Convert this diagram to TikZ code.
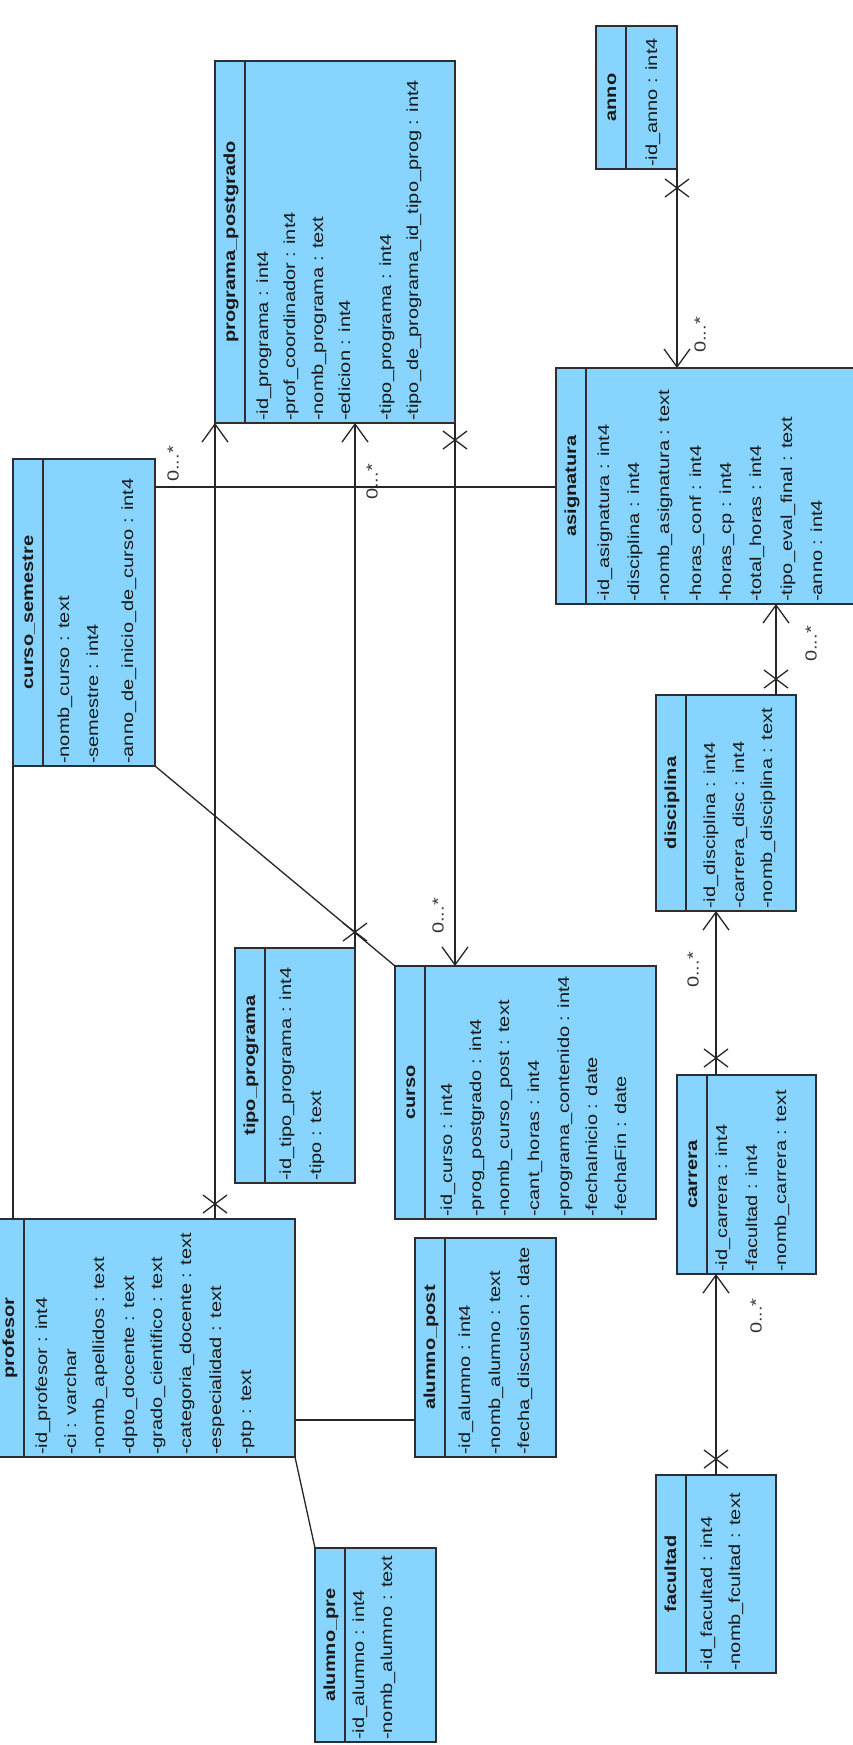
\documentclass[tikz,border=0pt]{standalone}
\usepackage{fontspec}
\newfontfamily\umlfont{Liberation Sans}[FakeStretch=1.25]
\usetikzlibrary{arrows.meta,calc}

\definecolor{clsfill}{RGB}{135,213,255}
\definecolor{clsline}{RGB}{45,45,50}

\tikzset{
  cls/.style={draw=clsline, fill=clsfill, line width=1.4pt, inner sep=0pt, outer sep=0pt, anchor=north west, rectangle},
  sepline/.style={draw=clsline, line width=1.4pt},
  attr/.style={rotate=90, anchor=west, inner sep=0pt, text height=11.5pt, text depth=3.5pt,
    font=\umlfont\fontsize{16}{18}\selectfont, text=black!90},
  hdr/.style={rotate=90, anchor=center, inner sep=0pt, text height=11.5pt, text depth=3.5pt,
    font=\umlfont\bfseries\fontsize{16}{18}\selectfont, text=black!90},
  mult/.style={rotate=90, inner sep=0pt, font=\umlfont\fontsize{16}{18}\selectfont, text=black!80},
  conn/.style={draw=black!85, line width=1.3pt},
  nav/.style={conn, -{Straight Barb[length=18pt,width=26pt]}},
}

% class box: name, left, top, width, height, title
\newcommand\umlclass[6]{%
  \node[cls, minimum width=#4pt, minimum height=#5pt] (#1) at (#2,#3) {};
  \draw[sepline] ($(#1.north west)+(30,0)$) -- ($(#1.south west)+(30,0)$);
  \node[hdr] (#1-h) at ($(#1.west)+(16,0)$) {#6};}
% attribute line: class, index, offset from left edge, text
\newcommand\umlattr[4]{\node[attr] (#1-a#2) at ($(#1.south west)+(#3,-2)$) {#4};}
% "not navigable" cross mark centred on a named coordinate
\newcommand\umlcross[1]{\draw[conn] ($(#1)+(-12,-9)$) -- ($(#1)+(12,9)$) ($(#1)+(-12,9)$) -- ($(#1)+(12,-9)$);}

\begin{document}
\begin{tikzpicture}[x=1pt,y=-1pt]
\useasboundingbox (0,0) rectangle (853,1745);
\fill[white] (0,0) rectangle (853,1745);
\clip (0,0) rectangle (853,1745);

% ---------- classes ----------
\umlclass{pp}{215}{61}{240}{362}{programa\_postgrado}
\umlclass{anno}{596}{26}{81}{143}{anno}
\umlclass{cs}{13}{459}{142}{307}{curso\_semestre}
\umlclass{asig}{556}{368}{320}{236}{asignatura}
\umlclass{tipo}{235}{948}{120}{235}{tipo\_programa}
\umlclass{curso}{395}{966}{261}{253}{curso}
\umlclass{disc}{656}{695}{140}{216}{disciplina}
\umlclass{carr}{677}{1075}{139}{199}{carrera}
\umlclass{fac}{656}{1475}{120}{198}{facultad}
\umlclass{prof}{-6}{1219}{301}{238}{profesor}
\umlclass{apost}{415}{1238}{141}{219}{alumno\_post}
\umlclass{apre}{315}{1548}{121}{194}{alumno\_pre}

% ---------- attributes ----------
\umlattr{pp}{1}{49}{-id\_programa : int4}
\umlattr{pp}{2}{76}{-prof\_coordinador : int4}
\umlattr{pp}{3}{104}{-nomb\_programa : text}
\umlattr{pp}{4}{131}{-edicion : int4}
\umlattr{pp}{5}{172}{-tipo\_programa : int4}
\umlattr{pp}{6}{199}{-tipo\_de\_programa\_id\_tipo\_prog : int4}

\umlattr{anno}{1}{57}{-id\_anno : int4}

\umlattr{cs}{1}{52}{-nomb\_curso : text}
\umlattr{cs}{2}{81}{-semestre : int4}
\umlattr{cs}{3}{116}{-anno\_de\_inicio\_de\_curso : int4}

\umlattr{asig}{1}{49}{-id\_asignatura : int4}
\umlattr{asig}{2}{79}{-disciplina : int4}
\umlattr{asig}{3}{109}{-nomb\_asignatura : text}
\umlattr{asig}{4}{141}{-horas\_conf : int4}
\umlattr{asig}{5}{171}{-horas\_cp : int4}
\umlattr{asig}{6}{201}{-total\_horas : int4}
\umlattr{asig}{7}{232}{-tipo\_eval\_final : text}
\umlattr{asig}{8}{262}{-anno : int4}

\umlattr{tipo}{1}{52}{-id\_tipo\_programa : int4}
\umlattr{tipo}{2}{82}{-tipo : text}

\umlattr{curso}{1}{53}{-id\_curso : int4}
\umlattr{curso}{2}{82}{-prog\_postgrado : int4}
\umlattr{curso}{3}{110}{-nomb\_curso\_post : text}
\umlattr{curso}{4}{140}{-cant\_horas : int4}
\umlattr{curso}{5}{170}{-programa\_contenido : int4}
\umlattr{curso}{6}{198}{-fechaInicio : date}
\umlattr{curso}{7}{227}{-fechaFin : date}

\umlattr{disc}{1}{55}{-id\_disciplina : int4}
\umlattr{disc}{2}{84}{-carrera\_disc : int4}
\umlattr{disc}{3}{112}{-nomb\_disciplina : text}

\umlattr{carr}{1}{46}{-id\_carrera : int4}
\umlattr{carr}{2}{76}{-facultad : int4}
\umlattr{carr}{3}{105}{-nomb\_carrera : text}

\umlattr{fac}{1}{52}{-id\_facultad : int4}
\umlattr{fac}{2}{80}{-nomb\_fcultad : text}

\umlattr{prof}{1}{49}{-id\_profesor : int4}
\umlattr{prof}{2}{78}{-ci : varchar}
\umlattr{prof}{3}{106}{-nomb\_apellidos : text}
\umlattr{prof}{4}{136}{-dpto\_docente : text}
\umlattr{prof}{5}{164}{-grado\_cientifico : text}
\umlattr{prof}{6}{193}{-categoria\_docente : text}
\umlattr{prof}{7}{223}{-especialidad : text}
\umlattr{prof}{8}{253}{-ptp : text}

\umlattr{apost}{1}{51}{-id\_alumno : int4}
\umlattr{apost}{2}{81}{-nomb\_alumno : text}
\umlattr{apost}{3}{110}{-fecha\_discusion : date}

\umlattr{apre}{1}{45}{-id\_alumno : int4}
\umlattr{apre}{2}{73}{-nomb\_alumno : text}

% ---------- connector end points ----------
\coordinate (h1) at ($(cs.north east)+(0,28)$);
\coordinate (d1) at ($(disc.north west)+(120,0)$);
\coordinate (c1) at ($(carr.north west)+(39,0)$);
\coordinate (f1) at ($(fac.north west)+(60,0)$);
\coordinate (p1) at ($(apost.north west)+(0,182)$);

% ---------- associations ----------
\draw[nav] (anno.south east) -- (anno.south east |- asig.north);
\draw[nav] (pp.south east) -- (pp.south east |- curso.north);
\draw[nav] (prof.north -| pp.south west) -- (pp.south west);
\draw[nav] (tipo.north east) -- (tipo.north east |- pp.south);
\draw[conn] (h1) -- (h1 -| asig.west);
\draw[conn] (cs.south west) -- (cs.south west |- prof.north);
\draw[conn] (cs.south east) -- (curso.north west);
\draw[nav] (d1) -- (d1 |- asig.south);
\draw[nav] (c1) -- (c1 |- disc.south);
\draw[nav] (f1) -- (f1 |- carr.south);
\draw[conn] (p1 -| prof.east) -- (p1);
\draw[conn] (prof.south east) -- (apre.north west);

% ---------- cross marks ----------
\coordinate (x1) at ($(anno.south east)+(0,19)$);
\coordinate (x2) at ($(pp.south east)+(0,17)$);
\coordinate (x3) at ($(prof.north -| pp.south west)+(0,-15)$);
\coordinate (x4) at ($(tipo.north east)+(0,-16)$);
\coordinate (x5) at ($(d1)+(0,-16)$);
\coordinate (x6) at ($(c1)+(0,-17)$);
\coordinate (x7) at ($(f1)+(0,-16)$);
\umlcross{x1}\umlcross{x2}\umlcross{x3}\umlcross{x4}
\umlcross{x5}\umlcross{x6}\umlcross{x7}

% ---------- multiplicities ----------
\node[mult] (m1) at (173,464) {0...*};
\node[mult] (m2) at (372,482) {0...*};
\node[mult] (m3) at (700,335) {0...*};
\node[mult] (m4) at (438,916) {0...*};
\node[mult] (m5) at (811,644) {0...*};
\node[mult] (m6) at (693,970) {0...*};
\node[mult] (m7) at (756,1316) {0...*};
\end{tikzpicture}
\end{document}
